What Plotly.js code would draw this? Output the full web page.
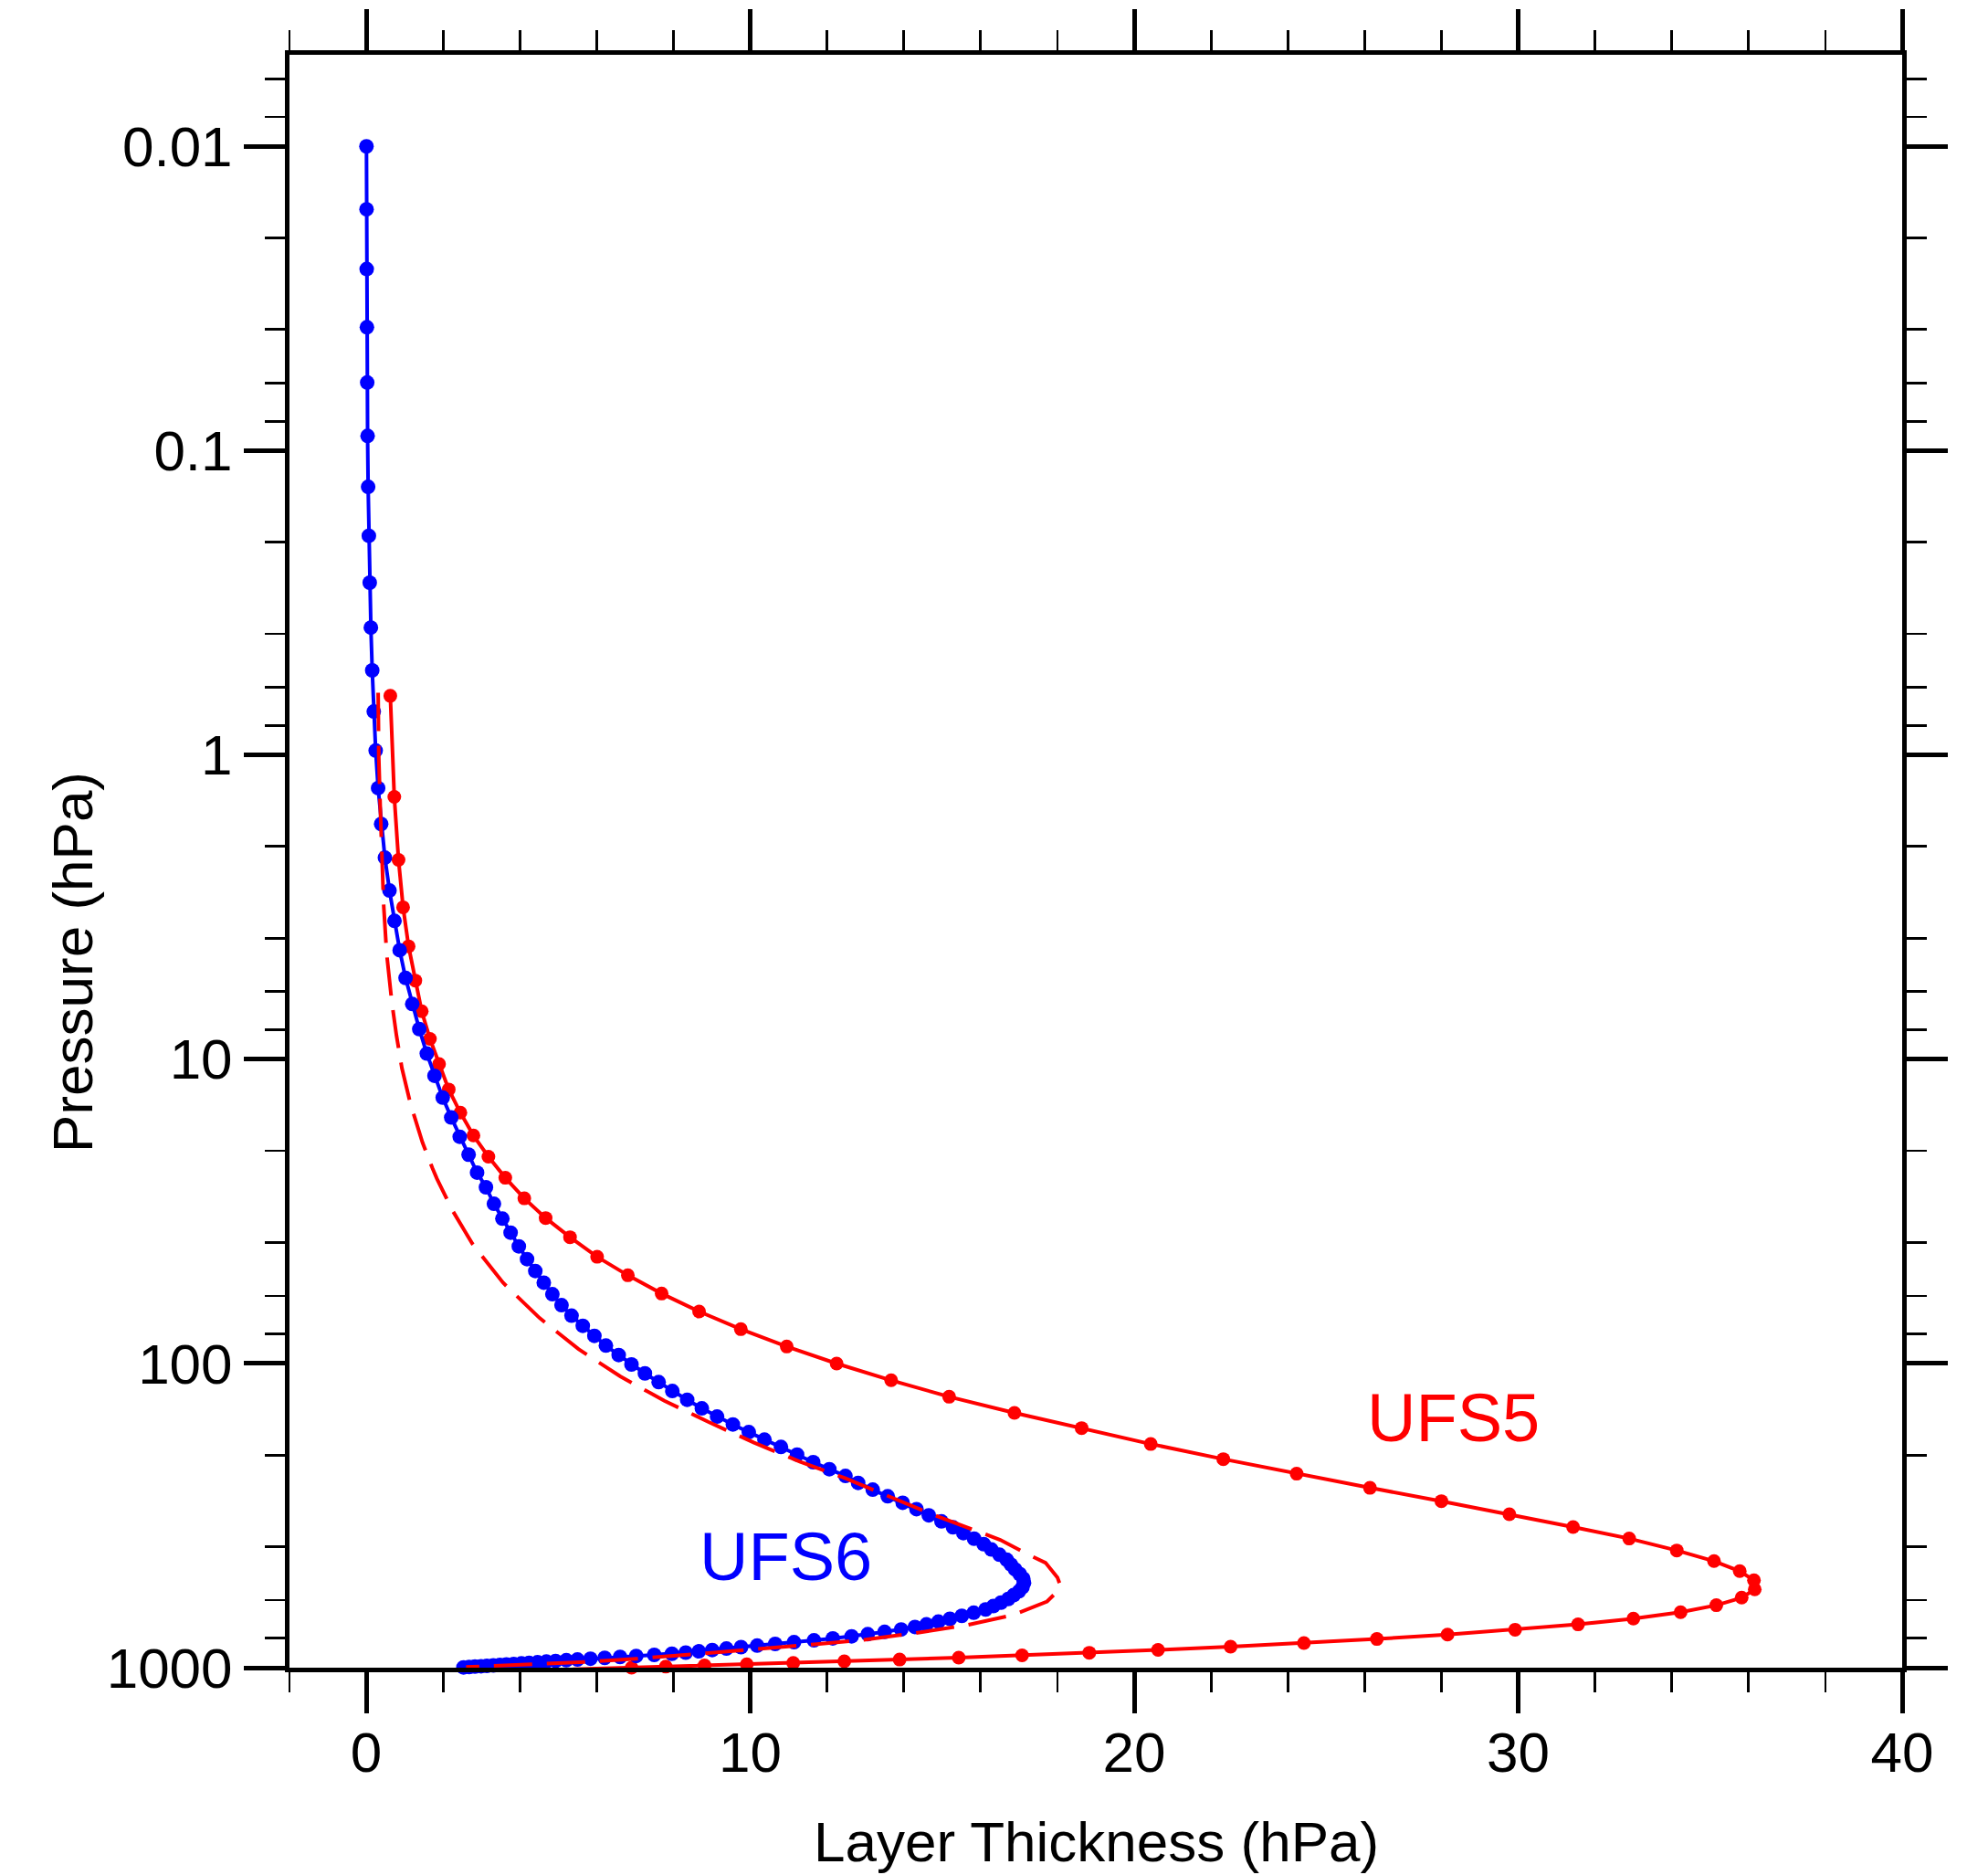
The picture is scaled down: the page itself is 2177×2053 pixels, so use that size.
<!DOCTYPE html>
<html>
<head>
<meta charset="utf-8">
<script src="https://cdn.plot.ly/plotly-3.0.1.min.js"></script>
<style>
html,body{margin:0;padding:0;background:#ffffff;}
#chart{width:2177px;height:2053px;}
</style>
</head>
<body>
<div id="chart"></div>
<script>
// ---- UFS6 (L127) layer mid-pressure (hPa) and layer thickness (hPa) ----
const ufs6Pressure = [
  0.0100, 0.0161, 0.0253, 0.0393, 0.0597, 0.0895, 0.1315, 0.1905, 0.2716, 0.3815,
  0.5274, 0.7202, 0.968, 1.286, 1.687, 2.176, 2.791, 3.513, 4.385, 5.410,
  6.587, 7.966, 9.588, 11.34, 13.38, 15.55, 17.99, 20.60, 23.59, 26.37,
  29.88, 33.44, 37.17, 41.24, 45.43, 49.70, 54.27, 59.23, 64.35, 69.69,
  75.21, 81.19, 87.40, 93.85, 100.8, 107.8, 115.2, 123.2, 131.7, 140.5,
  149.5, 158.7, 168.2, 178.1, 188.2, 199.3, 211.2, 222.6, 234.3, 246.95,
  259.95, 273.3, 287.1, 301.25, 315.74, 330.56, 345.69, 361.1, 376.79, 392.75,
  408.93, 425.3, 441.9, 458.6, 475.45, 492.4, 509.5, 526.6, 543.7, 560.75,
  577.68, 594.47, 611.1, 627.53, 643.76, 659.74, 675.4, 690.76, 705.81, 720.55,
  734.99, 749.1, 762.8, 776.08, 788.93, 801.33, 813.23, 824.63, 835.53, 845.95,
  855.92, 865.49, 874.69, 883.52, 892.01, 900.17, 907.89, 915.11, 921.9, 928.3,
  934.32, 939.99, 945.35, 950.42, 955.23, 959.8, 964.15, 968.29, 972.23, 975.98,
  979.54, 982.94, 986.16, 989.23, 992.14, 994.9, 997.5
];
const ufs6Thickness = [
  0.0048, 0.0073, 0.0111, 0.0165, 0.0242, 0.0344, 0.0487, 0.0670, 0.0900, 0.120,
  0.155, 0.195, 0.245, 0.309, 0.388, 0.485, 0.605, 0.735, 0.870, 1.023,
  1.197, 1.380, 1.577, 1.777, 1.991, 2.213, 2.434, 2.665, 2.886, 3.117,
  3.324, 3.545, 3.759, 3.973, 4.187, 4.402, 4.623, 4.847, 5.085, 5.346,
  5.639, 5.941, 6.241, 6.574, 6.907, 7.257, 7.614, 7.971, 8.358, 8.739,
  9.136, 9.548, 9.962, 10.37, 10.80, 11.22, 11.64, 12.06, 12.48, 12.81,
  13.19, 13.58, 13.97, 14.33, 14.65, 14.98, 15.28, 15.55, 15.83, 16.08,
  16.28, 16.49, 16.68, 16.79, 16.90, 17.02, 17.11, 17.13, 17.09, 17.00,
  16.86, 16.72, 16.53, 16.33, 16.13, 15.82, 15.51, 15.20, 14.90, 14.59,
  14.29, 13.93, 13.50, 13.06, 12.64, 12.15, 11.66, 11.14, 10.65, 10.18,
  9.76, 9.38, 9.01, 8.66, 8.32, 7.96, 7.50, 7.03, 6.61, 6.21,
  5.84, 5.50, 5.21, 4.93, 4.69, 4.46, 4.24, 4.04, 3.84, 3.65,
  3.48, 3.31, 3.14, 2.99, 2.83, 2.68, 2.53
];

// ---- UFS5 (L64) layer mid-pressure (hPa) and layer thickness (hPa) ----
const ufs5Pressure = [
  0.6394, 1.374, 2.214, 3.168, 4.257, 5.516, 6.957, 8.577, 10.37, 12.58,
  14.99, 17.82, 20.92, 24.54, 28.67, 33.28, 38.47, 44.62, 51.33, 58.94,
  67.53, 77.17, 88.0, 100.1, 113.6, 128.7, 145.4, 163.1, 184.0, 206.3,
  230.4, 256.4, 283.6, 313.2, 345.0, 376.3, 411.8, 446.3, 481.7, 516.1,
  553.0, 588.6, 623.3, 657.3, 690.0, 720.6, 750.0, 778.0, 805.0, 830.0,
  853.0, 874.0, 893.0, 911.0, 926.5, 940.5, 953.0, 964.0, 974.0, 983.0,
  992.0, 1000.0, 1007.0, 1013.0
];
const ufs5Thickness = [
  0.626, 0.730, 0.840, 0.959, 1.102, 1.278, 1.444, 1.658, 1.896, 2.148,
  2.451, 2.791, 3.181, 3.621, 4.116, 4.671, 5.306, 6.012, 6.812, 7.692,
  8.668, 9.755, 10.95, 12.25, 13.67, 15.18, 16.88, 18.63, 20.43, 22.32,
  24.23, 26.14, 28.00, 29.77, 31.43, 32.89, 34.13, 35.10, 35.77, 36.14,
  36.16, 35.82, 35.16, 34.23, 33.00, 31.56, 29.92, 28.16, 26.32, 24.42,
  22.51, 20.62, 18.83, 17.08, 15.43, 13.89, 12.45, 11.12, 9.91, 8.81,
  7.80, 6.91, 6.11, 5.38
];

// ---- dashed red reference curve ----
const dashPressure = [
  0.625, 1.02, 1.48, 2.20, 3.10, 4.50, 6.50, 8.34, 10.7, 14.0,
  18.8, 22.9, 24.7, 31.5, 40.5, 54.3, 70.9, 89.7, 110.3, 132.6, 155.8,
  182.2, 210.2, 238.6, 257, 299, 314, 365, 380, 429, 452,
  505, 530, 553, 606, 672, 726, 770, 809, 837, 853,
  883, 908, 935, 957, 973, 989, 995
];
const dashThickness = [
  0.309, 0.326, 0.364, 0.412, 0.452, 0.531, 0.666, 0.785, 0.928, 1.150,
  1.465, 1.728, 1.840, 2.250, 2.767, 3.562, 4.513, 5.527, 6.614, 7.763, 8.915,
  10.10, 11.29, 12.48, 13.11, 14.39, 14.76, 16.14, 16.51, 17.31, 17.69,
  18.00, 18.06, 18.05, 17.73, 16.83, 15.61, 14.28, 13.01, 11.73, 10.90,
  9.61, 8.30, 7.03, 5.72, 4.41, 3.12, 2.60
];

// ---- axis ticks and labels ----
const xTickVals = [0, 10, 20, 30, 40];
const yTickVals = [0.01, 0.1, 1, 10, 100, 1000];
const yTickText = ['0.01', '0.1', '1', '10', '100', '1000'];
const yMinorVals = [0.006, 0.008, 0.02, 0.04, 0.06, 0.08, 0.2, 0.4, 0.6, 0.8,
                    2, 4, 6, 8, 20, 40, 60, 80, 200, 400, 600, 800];
const seriesNames = ['UFS5', 'UFS6'];
const xTitle = 'Layer Thickness (hPa)';
const yTitle = 'Pressure (hPa)';

const FONT = 'Liberation Sans, Arial, Helvetica, sans-serif';
const RED = '#ff0000';
const BLUE = '#0000ff';

const traces = [
  {
    x: ufs5Thickness, y: ufs5Pressure, name: seriesNames[0],
    type: 'scatter', mode: 'lines+markers', cliponaxis: false,
    line: {color: RED, width: 4},
    marker: {color: RED, size: 15}
  },
  {
    x: ufs6Thickness, y: ufs6Pressure, name: seriesNames[1],
    type: 'scatter', mode: 'lines+markers', cliponaxis: false,
    line: {color: BLUE, width: 4},
    marker: {color: BLUE, size: 16}
  },
  {
    x: dashThickness, y: dashPressure, name: 'reference',
    type: 'scatter', mode: 'lines', cliponaxis: false,
    line: {color: RED, width: 4, dash: '42px,16px'}
  }
];

const axisCommon = {
  showline: true, linewidth: 5, linecolor: '#000',
  mirror: 'allticks', ticks: 'outside', ticklen: 45, tickwidth: 5, tickcolor: '#000',
  showgrid: false, zeroline: false,
  tickfont: {family: FONT, size: 62, color: '#000'}
};

const layout = {
  width: 2177, height: 2053,
  margin: {l: 317, r: 94, t: 60, b: 227, pad: 0},
  paper_bgcolor: '#ffffff', plot_bgcolor: '#ffffff',
  showlegend: false,
  font: {family: FONT, size: 62, color: '#000'},
  xaxis: Object.assign({}, axisCommon, {
    range: [-2, 40], tickmode: 'array', tickvals: xTickVals, ticklabelstandoff: -10,
    minor: {dtick: 2, tick0: 0, ticks: 'outside', ticklen: 22, tickwidth: 2.8, tickcolor: '#000', showgrid: false}
  }),
  yaxis: Object.assign({}, axisCommon, {
    type: 'log', range: [3, -2.301], tickmode: 'array', tickvals: yTickVals, ticktext: yTickText,
    minor: {tickmode: 'array', tickvals: yMinorVals, ticks: 'outside', ticklen: 22, tickwidth: 2.8, tickcolor: '#000', showgrid: false}
  }),
  annotations: [
    {text: xTitle, xref: 'paper', yref: 'paper', x: 0.5, y: -0.1076,
     xanchor: 'center', yanchor: 'middle', showarrow: false,
     font: {family: FONT, size: 62, color: '#000'}},
    {text: yTitle, xref: 'paper', yref: 'paper', x: -0.1342, y: 0.4372, textangle: -90,
     xanchor: 'center', yanchor: 'middle', showarrow: false,
     font: {family: FONT, size: 62, color: '#000'}},
    {text: seriesNames[0], xref: 'paper', yref: 'paper', x: 0.7217, y: 0.1549,
     xanchor: 'center', yanchor: 'middle', showarrow: false,
     font: {family: FONT, size: 74, color: RED}},
    {text: seriesNames[1], xref: 'paper', yref: 'paper', x: 0.3078, y: 0.0688,
     xanchor: 'center', yanchor: 'middle', showarrow: false,
     font: {family: FONT, size: 74, color: BLUE}}
  ]
};

Plotly.newPlot('chart', traces, layout, {displayModeBar: false, staticPlot: true});
</script>
</body>
</html>
